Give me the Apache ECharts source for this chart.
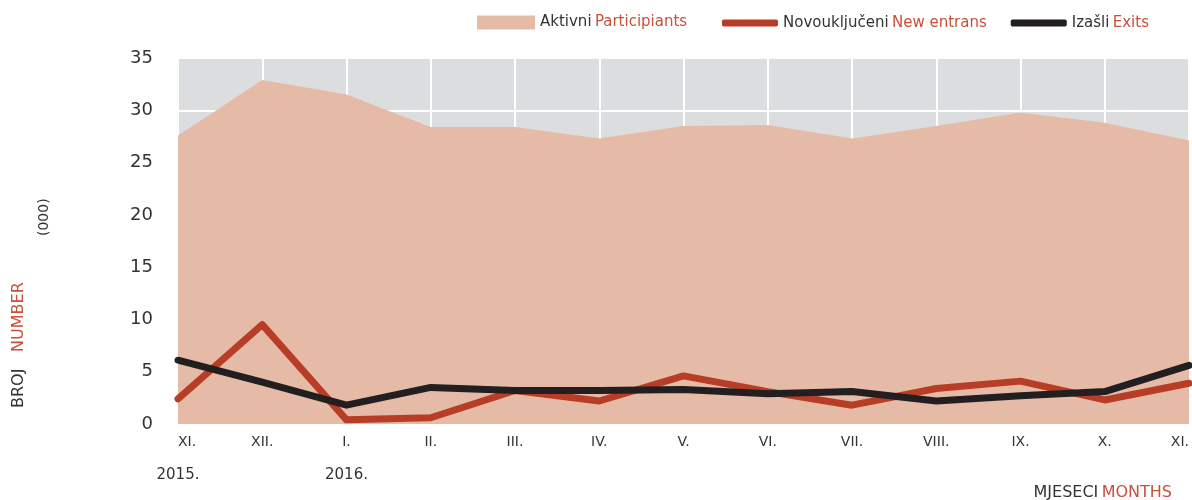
<!DOCTYPE html>
<html>
<head>
<meta charset="utf-8">
<script src="https://cdn.jsdelivr.net/npm/echarts@6/dist/echarts.min.js"></script>
<style>
  html, body { margin: 0; padding: 0; background: #ffffff; }
  #chart { width: 1192px; height: 500px; }
</style>
</head>
<body>
<div id="chart"></div>
<script>
// Months from XI. 2015 to XI. 2016
const months = ['XI.', 'XII.', 'I.', 'II.', 'III.', 'IV.', 'V.', 'VI.', 'VII.', 'VIII.', 'IX.', 'X.', 'XI.'];
const years = ['2015.', '', '2016.', '', '', '', '', '', '', '', '', '', ''];

// Values in thousands
const participants = [27.6, 32.9, 31.5, 28.4, 28.4, 27.3, 28.5, 28.6, 27.3, 28.5, 29.8, 28.8, 27.1];
const newEntrants  = [2.4, 9.5, 0.4, 0.6, 3.2, 2.2, 4.6, 3.1, 1.8, 3.4, 4.1, 2.3, 3.9];
const exits        = [6.1, 4.0, 1.8, 3.5, 3.2, 3.2, 3.3, 2.9, 3.1, 2.2, 2.7, 3.1, 5.6];

const yTicks = [0, 5, 10, 15, 20, 25, 30, 35];

const FONT = 'DejaVu Sans';
const DARK = '#333333';
const RED_TEXT = '#c9503a';
const AREA = '#e5bba7';
const RED = '#b83d27';
const BLACK = '#231f20';

const chart = echarts.init(document.getElementById('chart'));

const legendRich = {
  a: { color: DARK, fontFamily: FONT, fontSize: 15 },
  b: { color: RED_TEXT, fontFamily: FONT, fontSize: 15 }
};

chart.setOption({
  backgroundColor: '#ffffff',
  animation: false,
  grid: {
    left: 178, right: 3, top: 58, bottom: 76,
    outerBoundsMode: 'none',
    containLabel: false,
    show: true, backgroundColor: '#dcdddf', borderWidth: 0
  },
  legend: [
    {
      left: 477, top: 15, padding: 0,
      itemWidth: 58, itemHeight: 14, itemGap: 24,
      data: [{ name: 'Aktivni', icon: 'rect' }],
      formatter: () => '{a|Aktivni} {b|Participiants}',
      textStyle: { rich: legendRich }
    },
    {
      left: 722, top: 15.5, padding: 0,
      itemWidth: 56, itemHeight: 7, itemGap: 24,
      data: [{ name: 'Novoukljućeni', icon: 'roundRect' }, { name: 'Izašli', icon: 'roundRect' }],
      formatter: name => name === 'Izašli' ? '{a|Izašli} {b|Exits}' : '{a|Novouključeni} {b|New entrans}',
      textStyle: { rich: legendRich }
    }
  ],
  xAxis: [
    {
      type: 'category',
      data: months,
      boundaryGap: false,
      axisLine: { show: false },
      axisTick: { show: false },
      axisLabel: {
        margin: 11,
        color: DARK,
        fontFamily: FONT,
        fontSize: 14,
        interval: 0,
        alignMinLabel: 'left',
        alignMaxLabel: 'right'
      },
      splitLine: { show: true, lineStyle: { color: '#ffffff', width: 2 } }
    },
    {
      // year markers under the month labels
      type: 'category',
      data: years,
      position: 'bottom',
      boundaryGap: false,
      axisLine: { show: false },
      axisTick: { show: false },
      splitLine: { show: false },
      axisLabel: {
        margin: 44,
        color: DARK,
        fontFamily: FONT,
        fontSize: 15,
        interval: 0
      }
    }
  ],
  yAxis: {
    type: 'value',
    min: yTicks[0],
    max: yTicks[yTicks.length - 1],
    interval: 5,
    axisLine: { show: false },
    axisTick: { show: false },
    axisLabel: { margin: 25, color: DARK, fontFamily: FONT, fontSize: 18, padding: [4, 0, 0, 0] },
    splitLine: { show: true, lineStyle: { color: '#ffffff', width: 2 } }
  },
  series: [
    {
      name: 'Aktivni',
      type: 'line',
      data: participants,
      symbol: 'none',
      lineStyle: { width: 0 },
      itemStyle: { color: AREA },
      areaStyle: { color: AREA, opacity: 1 },
      z: 1
    },
    {
      name: 'Novoukljućeni',
      type: 'line',
      data: newEntrants,
      symbol: 'none',
      lineStyle: { width: 7, color: RED, cap: 'round', join: 'round' },
      itemStyle: { color: RED },
      z: 3
    },
    {
      name: 'Izašli',
      type: 'line',
      data: exits,
      symbol: 'none',
      lineStyle: { width: 7, color: BLACK, cap: 'round', join: 'round' },
      itemStyle: { color: BLACK },
      z: 4
    }
  ],
  graphic: [
    {
      type: 'text',
      x: 11, y: 408,
      rotation: Math.PI / 2,
      style: {
        text: '{a|BROJ}     {b|NUMBER}',
        rich: {
          a: { fill: DARK, fontFamily: FONT, fontSize: 16 },
          b: { fill: RED_TEXT, fontFamily: FONT, fontSize: 16 }
        }
      }
    },
    {
      type: 'text',
      x: 37, y: 236,
      rotation: Math.PI / 2,
      style: { text: '(000)', fill: DARK, fontFamily: FONT, fontSize: 14 }
    },
    {
      type: 'text',
      right: 20, top: 485,
      style: {
        text: '{a|MJESECI} {b|MONTHS}',
        rich: {
          a: { fill: DARK, fontFamily: FONT, fontSize: 16 },
          b: { fill: RED_TEXT, fontFamily: FONT, fontSize: 16 }
        }
      }
    }
  ]
});
</script>
</body>
</html>
